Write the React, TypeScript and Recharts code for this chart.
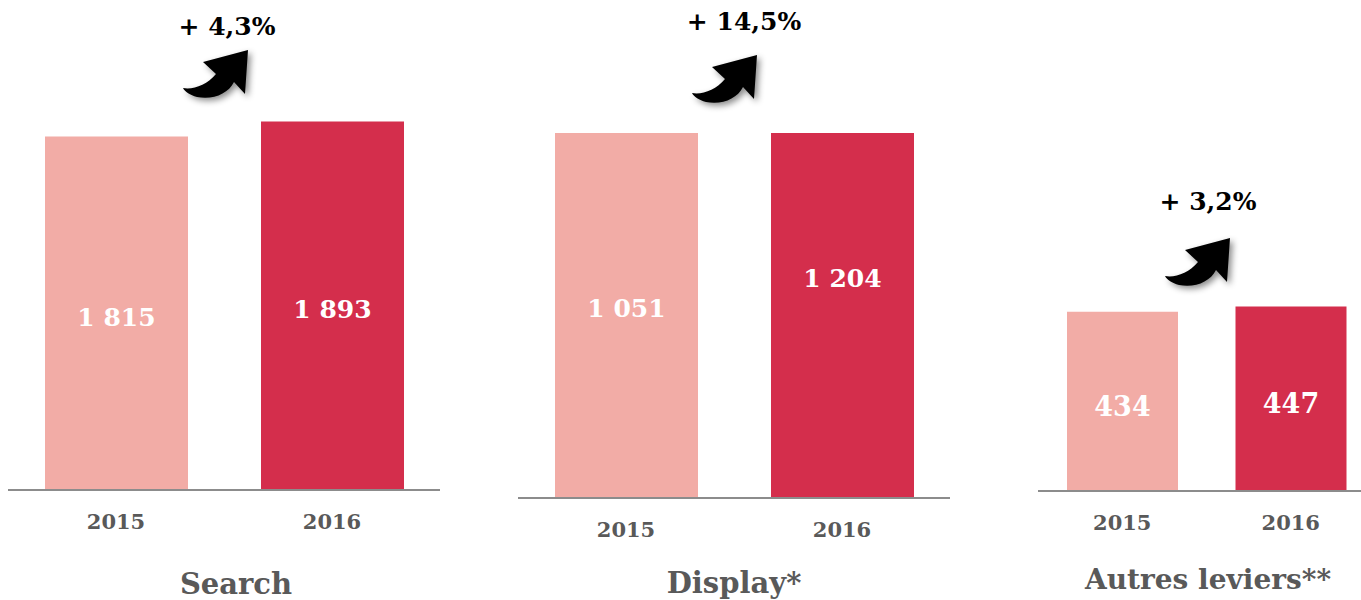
import { Bar, BarChart, Cell, LabelList, XAxis, YAxis } from "recharts";

const years = ["2015", "2016"];
const searchValues = [1815, 1893];
const displayValues = [1051, 1204];
// the source draws both Display bars at the same height, whatever the labels say
const displayDrawn = [1204, 1204];
const autresValues = [434, 447];
const panelTitles = ["Search", "Display*", "Autres leviers**"];
const growthLabels = ["+ 4,3%", "+ 14,5%", "+ 3,2%"];

const FONT = "'DejaVu Serif', Georgia, serif";
const barColors = ["#f2aca6", "#d42e4c"];

const fmt = (v: number) => String(v).replace(/\B(?=(\d{3})+(?!\d))/g, " ");

const rows = (drawn: number[], shown: number[]) =>
  years.map((y, i) => ({ year: y, value: drawn[i], label: fmt(shown[i]) }));

const YearTick = (props: any) => (
  <text
    x={props.x}
    y={props.y}
    dy={39}
    textAnchor="middle"
    fontFamily={FONT}
    fontSize={21}
    fontWeight="bold"
    fill="#595959"
  >
    {props.payload.value}
  </text>
);

type PanelProps = {
  left: number;
  width: number;
  top: number;
  bottom: number;
  max: number;
  barSize: number;
  labelSize: number;
  labelShift?: number[];
  data: { year: string; value: number; label: string }[];
};

function Panel({ left, width, top, bottom, max, barSize, labelSize, labelShift, data }: PanelProps) {
  // value label centred in the bar, optionally nudged up/down
  const renderLabel = (p: any) => {
    const shift = labelShift ? labelShift[p.index] : 0;
    return (
      <text
        x={p.x + p.width / 2}
        y={p.y + p.height / 2 + shift}
        dy="0.36em"
        textAnchor="middle"
        fill="#ffffff"
        fontFamily={FONT}
        fontSize={labelSize}
        fontWeight="bold"
      >
        {p.value}
      </text>
    );
  };
  return (
    <div style={{ position: "absolute", left, top: 0 }}>
      <BarChart
        width={width}
        height={600}
        data={data}
        margin={{ top, right: 9, left: 9, bottom: 600 - bottom - 30 }}
      >
        <XAxis
          dataKey="year"
          height={30}
          tickLine={false}
          tickSize={0}
          tickMargin={0}
          axisLine={{ stroke: "#8c8c8c", strokeWidth: 2 }}
          tick={<YearTick />}
          interval={0}
        />
        <YAxis hide domain={[0, max]} />
        <Bar dataKey="value" barSize={barSize} isAnimationActive={false}>
          {data.map((_, i) => (
            <Cell key={i} fill={barColors[i]} />
          ))}
          <LabelList dataKey="label" content={renderLabel} />
        </Bar>
      </BarChart>
    </div>
  );
}

function Arrow({ x, y }: { x: number; y: number }) {
  return (
    <path
      transform={`translate(${x},${y})`}
      d="M65,0 L62,44 L51,32 C45,44 30,50 14,47 C7,45 2,42 0,38 C10,40 24,35 33,24 L20,12 Z"
      fill="#000"
      filter="url(#arrowShadow)"
    />
  );
}

export default function App() {
  const titleStyle = { fontFamily: FONT, fontWeight: "bold" as const, fill: "#595959" };
  const growthStyle = { fontFamily: FONT, fontWeight: "bold" as const, fill: "#000" };
  return (
    <div
      style={{
        position: "absolute",
        left: 0,
        top: 0,
        width: 1361,
        height: 600,
        overflow: "hidden",
        background: "#fff",
      }}
    >
      <Panel left={-1} width={450} top={100.6} bottom={490} max={2000} barSize={143} labelSize={25} labelShift={[4, 3]} data={rows(searchValues, searchValues)} />
      <Panel left={509} width={450} top={103.9} bottom={498} max={1300} barSize={143} labelSize={25} labelShift={[-8, -38]} data={rows(displayDrawn, displayValues)} />
      <Panel left={1029} width={355} top={284.5} bottom={491} max={500} barSize={111} labelSize={27} labelShift={[5, 5]} data={rows(autresValues, autresValues)} />

      <svg
        width={1361}
        height={600}
        style={{ position: "absolute", left: 0, top: 0, pointerEvents: "none" }}
      >
        <defs>
          <filter id="arrowShadow" x="-30%" y="-30%" width="170%" height="170%">
            <feDropShadow dx={3} dy={3} stdDeviation={3} floodColor="#000" floodOpacity={0.45} />
          </filter>
        </defs>
        <text x={236} y={594} textAnchor="middle" fontSize={29} {...titleStyle}>{panelTitles[0]}</text>
        <text x={734} y={593} textAnchor="middle" fontSize={29} {...titleStyle}>{panelTitles[1]}</text>
        <text x={1208} y={589} textAnchor="middle" fontSize={28} {...titleStyle}>{panelTitles[2]}</text>

        <text x={227} y={35} textAnchor="middle" fontSize={25} {...growthStyle}>{growthLabels[0]}</text>
        <text x={744} y={30} textAnchor="middle" fontSize={25} {...growthStyle}>{growthLabels[1]}</text>
        <text x={1208} y={210} textAnchor="middle" fontSize={25} {...growthStyle}>{growthLabels[2]}</text>

        <Arrow x={183} y={50} />
        <Arrow x={692} y={55} />
        <Arrow x={1165} y={238} />
      </svg>
    </div>
  );
}
